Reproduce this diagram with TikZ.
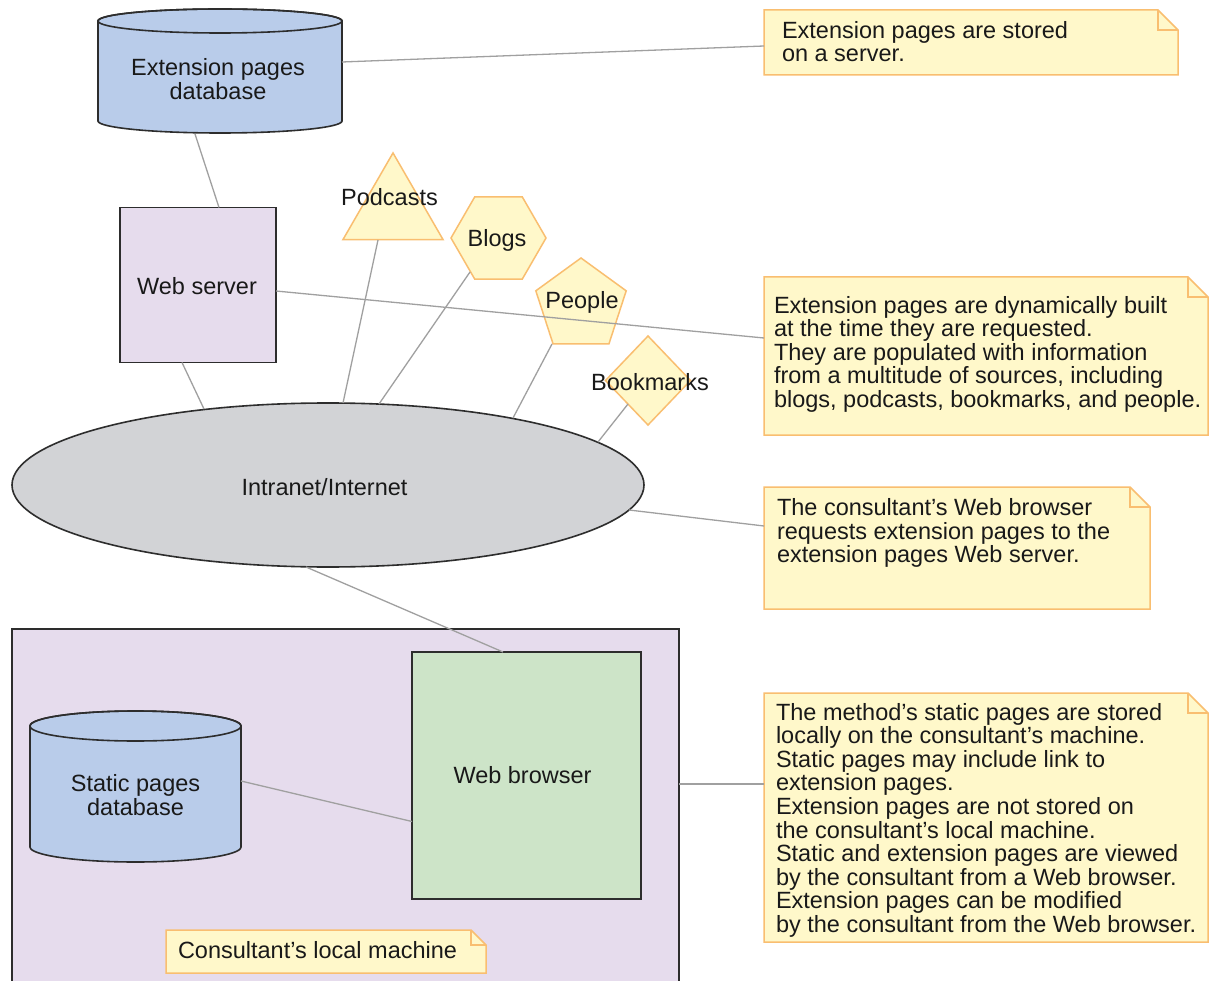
\documentclass[tikz,border=0pt]{standalone}
\usepackage{fontspec}
\setmainfont{Liberation Sans}
\usetikzlibrary{shapes.geometric,calc}
\definecolor{dbblue}{RGB}{185,204,234}
\definecolor{lav}{RGB}{230,220,237}
\definecolor{wbgreen}{RGB}{205,228,200}
\definecolor{netgray}{RGB}{210,211,214}
\definecolor{noteyel}{RGB}{255,248,202}
\definecolor{noteor}{RGB}{249,190,112}
\definecolor{linegray}{RGB}{160,160,160}
\definecolor{edgec}{RGB}{45,45,45}
\definecolor{txtc}{RGB}{25,25,25}
\newcommand\dfont{\fontsize{23.5pt}{23.6pt}\selectfont}
\newcommand\tstrut{\rule{0pt}{18pt}}
\newcommand\notebox[6]{%
  \node[anchor=north west, minimum width={#4-#2}, minimum height={#5-#3}] (#1) at (#2,#3) {};
  \filldraw[notedraw, fill=noteyel] (#2,#3) -- ({#4-#6},#3) -- (#4,{#3+#6}) -- (#4,#5) -- (#2,#5) -- cycle;
  \draw[notedraw] ({#4-#6},#3) -- ({#4-#6},{#3+#6}) -- (#4,{#3+#6});
}
\begin{document}
\begin{tikzpicture}[x=1pt,y=-1pt,
  every node/.style={font=\dfont, text=txtc, inner sep=0pt, outer sep=0pt},
  solidbox/.style={draw=edgec, line width=1.6pt},
  lbl/.style={text height=16.8pt, text depth=0pt},
  notedraw/.style={draw=noteor, line width=1.5pt, line join=miter},
  srcshape/.style={draw=noteor, fill=noteyel, line width=1.5pt},
  conn/.style={draw=linegray, line width=1.3pt},
  notetext/.style={anchor=north west, align=left}
]
\useasboundingbox (0,0) rectangle (1210,981);
\fill[white] (0,0) rectangle (1210,981);

% consultant's local machine
\node[solidbox, fill=lav, anchor=north west, minimum width=667, minimum height=360] (lm) at (12,629) {};

% extension pages database
\filldraw[solidbox, fill=dbblue] (98,21) -- (98,121) arc[start angle=180, end angle=360, x radius=122pt, y radius=12pt] -- (342,21) arc[start angle=0, end angle=180, x radius=122pt, y radius=12pt] -- cycle;
\draw[solidbox] (220,21) ellipse [x radius=122pt, y radius=12pt];
\node[align=center] (edb) at (218,79) {Extension pages\\database};

% web server
\node[solidbox, fill=lav, minimum width=156, minimum height=155] (ws) at (198,285) {};
\node[lbl] (wsl) at (197,286) {Web server};

% network
\node[ellipse, solidbox, fill=netgray, minimum width=632, minimum height=164] (net) at (328,485) {};
\node[lbl] (netl) at (324.5,487) {Intranet/Internet};

% web browser
\node[solidbox, fill=wbgreen, minimum width=229, minimum height=247] (wb) at (526.5,775.5) {};
\node[lbl] (wbl) at (522.5,775.5) {Web browser};

% static pages database
\filldraw[solidbox, fill=dbblue] (30,726) -- (30,847) arc[start angle=180, end angle=360, x radius=105.5pt, y radius=15pt] -- (241,726) arc[start angle=0, end angle=180, x radius=105.5pt, y radius=15pt] -- cycle;
\draw[solidbox] (135.5,726) ellipse [x radius=105.5pt, y radius=15pt];
\node[align=center] (sdb) at (135.5,795) {Static pages\\database};

% sources
\node[regular polygon, regular polygon sides=3, srcshape, minimum size=115.5] (pod) at (393,210.7) {};
\node[regular polygon, regular polygon sides=6, srcshape, minimum size=95] (blogs) at (498.5,238) {};
\node[regular polygon, regular polygon sides=5, srcshape, minimum size=95] (peo) at (581,305.5) {};
\node[diamond, srcshape, minimum width=85, minimum height=89] (bm) at (648,380.5) {};
\node[lbl] (podl) at (389.5,197) {Podcasts};
\node[lbl] (blogsl) at (497,238) {Blogs};
\node[lbl] (peol) at (582,300) {People};
\node[lbl] (bml) at (650,382) {Bookmarks};

% notes
\notebox{n1}{764}{10}{1178}{75}{20}
\node[notetext] (t1) at (782,20.3) {\tstrut Extension pages are stored\\on a server.};
\notebox{n2}{764}{277}{1208}{435}{20}
\node[notetext] (t2) at (774,295) {\tstrut Extension pages are dynamically built\\at the time they are requested.\\They are populated with information\\from a multitude of sources, including\\blogs, podcasts, bookmarks, and people.};
\notebox{n3}{764}{487}{1150}{609}{20}
\node[notetext] (t3) at (777,497.5) {\tstrut The consultant’s Web browser\\requests extension pages to the\\extension pages Web server.};
\notebox{n4}{764}{693}{1208}{942}{20}
\node[notetext] (t4) at (776,702) {\tstrut The method’s static pages are stored\\locally on the consultant’s machine.\\Static pages may include link to\\extension pages.\\Extension pages are not stored on\\the consultant’s local machine.\\Static and extension pages are viewed\\by the consultant from a Web browser.\\Extension pages can be modified\\by the consultant from the Web browser.};
\notebox{n5}{166}{930}{486}{973}{15}
\node[notetext] (t5) at (178,940.3) {\tstrut Consultant’s local machine};

% connectors
\draw[conn] ($(edb)+(-23,55)$) -- ($(ws.north)+(21,0)$);
\draw[conn] ($(edb)+(124,-17)$) -- ($(n1.west)+(0,3.5)$);
\draw[conn] ($(ws.east)+(0,6)$) -- ($(n2.west)+(0,-18)$);
\draw[conn] ($(ws.south)+(-16,0)$) -- ($(net)+(-124,-76)$);
\draw[conn] ($(pod)+(-15,29.3)$) -- ($(net)+(15,-82)$);
\draw[conn] ($(blogs)+(-28.5,34)$) -- ($(net)+(51,-81)$);
\draw[conn] ($(peo)+(-29,38.5)$) -- ($(net)+(185,-67)$);
\draw[conn] ($(bm)+(-20,23.5)$) -- ($(net)+(270,-43)$);
\draw[conn] ($(net)+(301,25)$) -- ($(n3.west)+(0,-22)$);
\draw[conn] ($(net)+(-22,82)$) -- ($(wb.north)+(-23.5,0)$);
\draw[conn] ($(sdb)+(105.5,-14)$) -- ($(wb.west)+(0,46)$);
\draw[conn] ($(lm.east)+(0,-25)$) -- ($(n4.west)+(0,-33.5)$);
\end{tikzpicture}
\end{document}
